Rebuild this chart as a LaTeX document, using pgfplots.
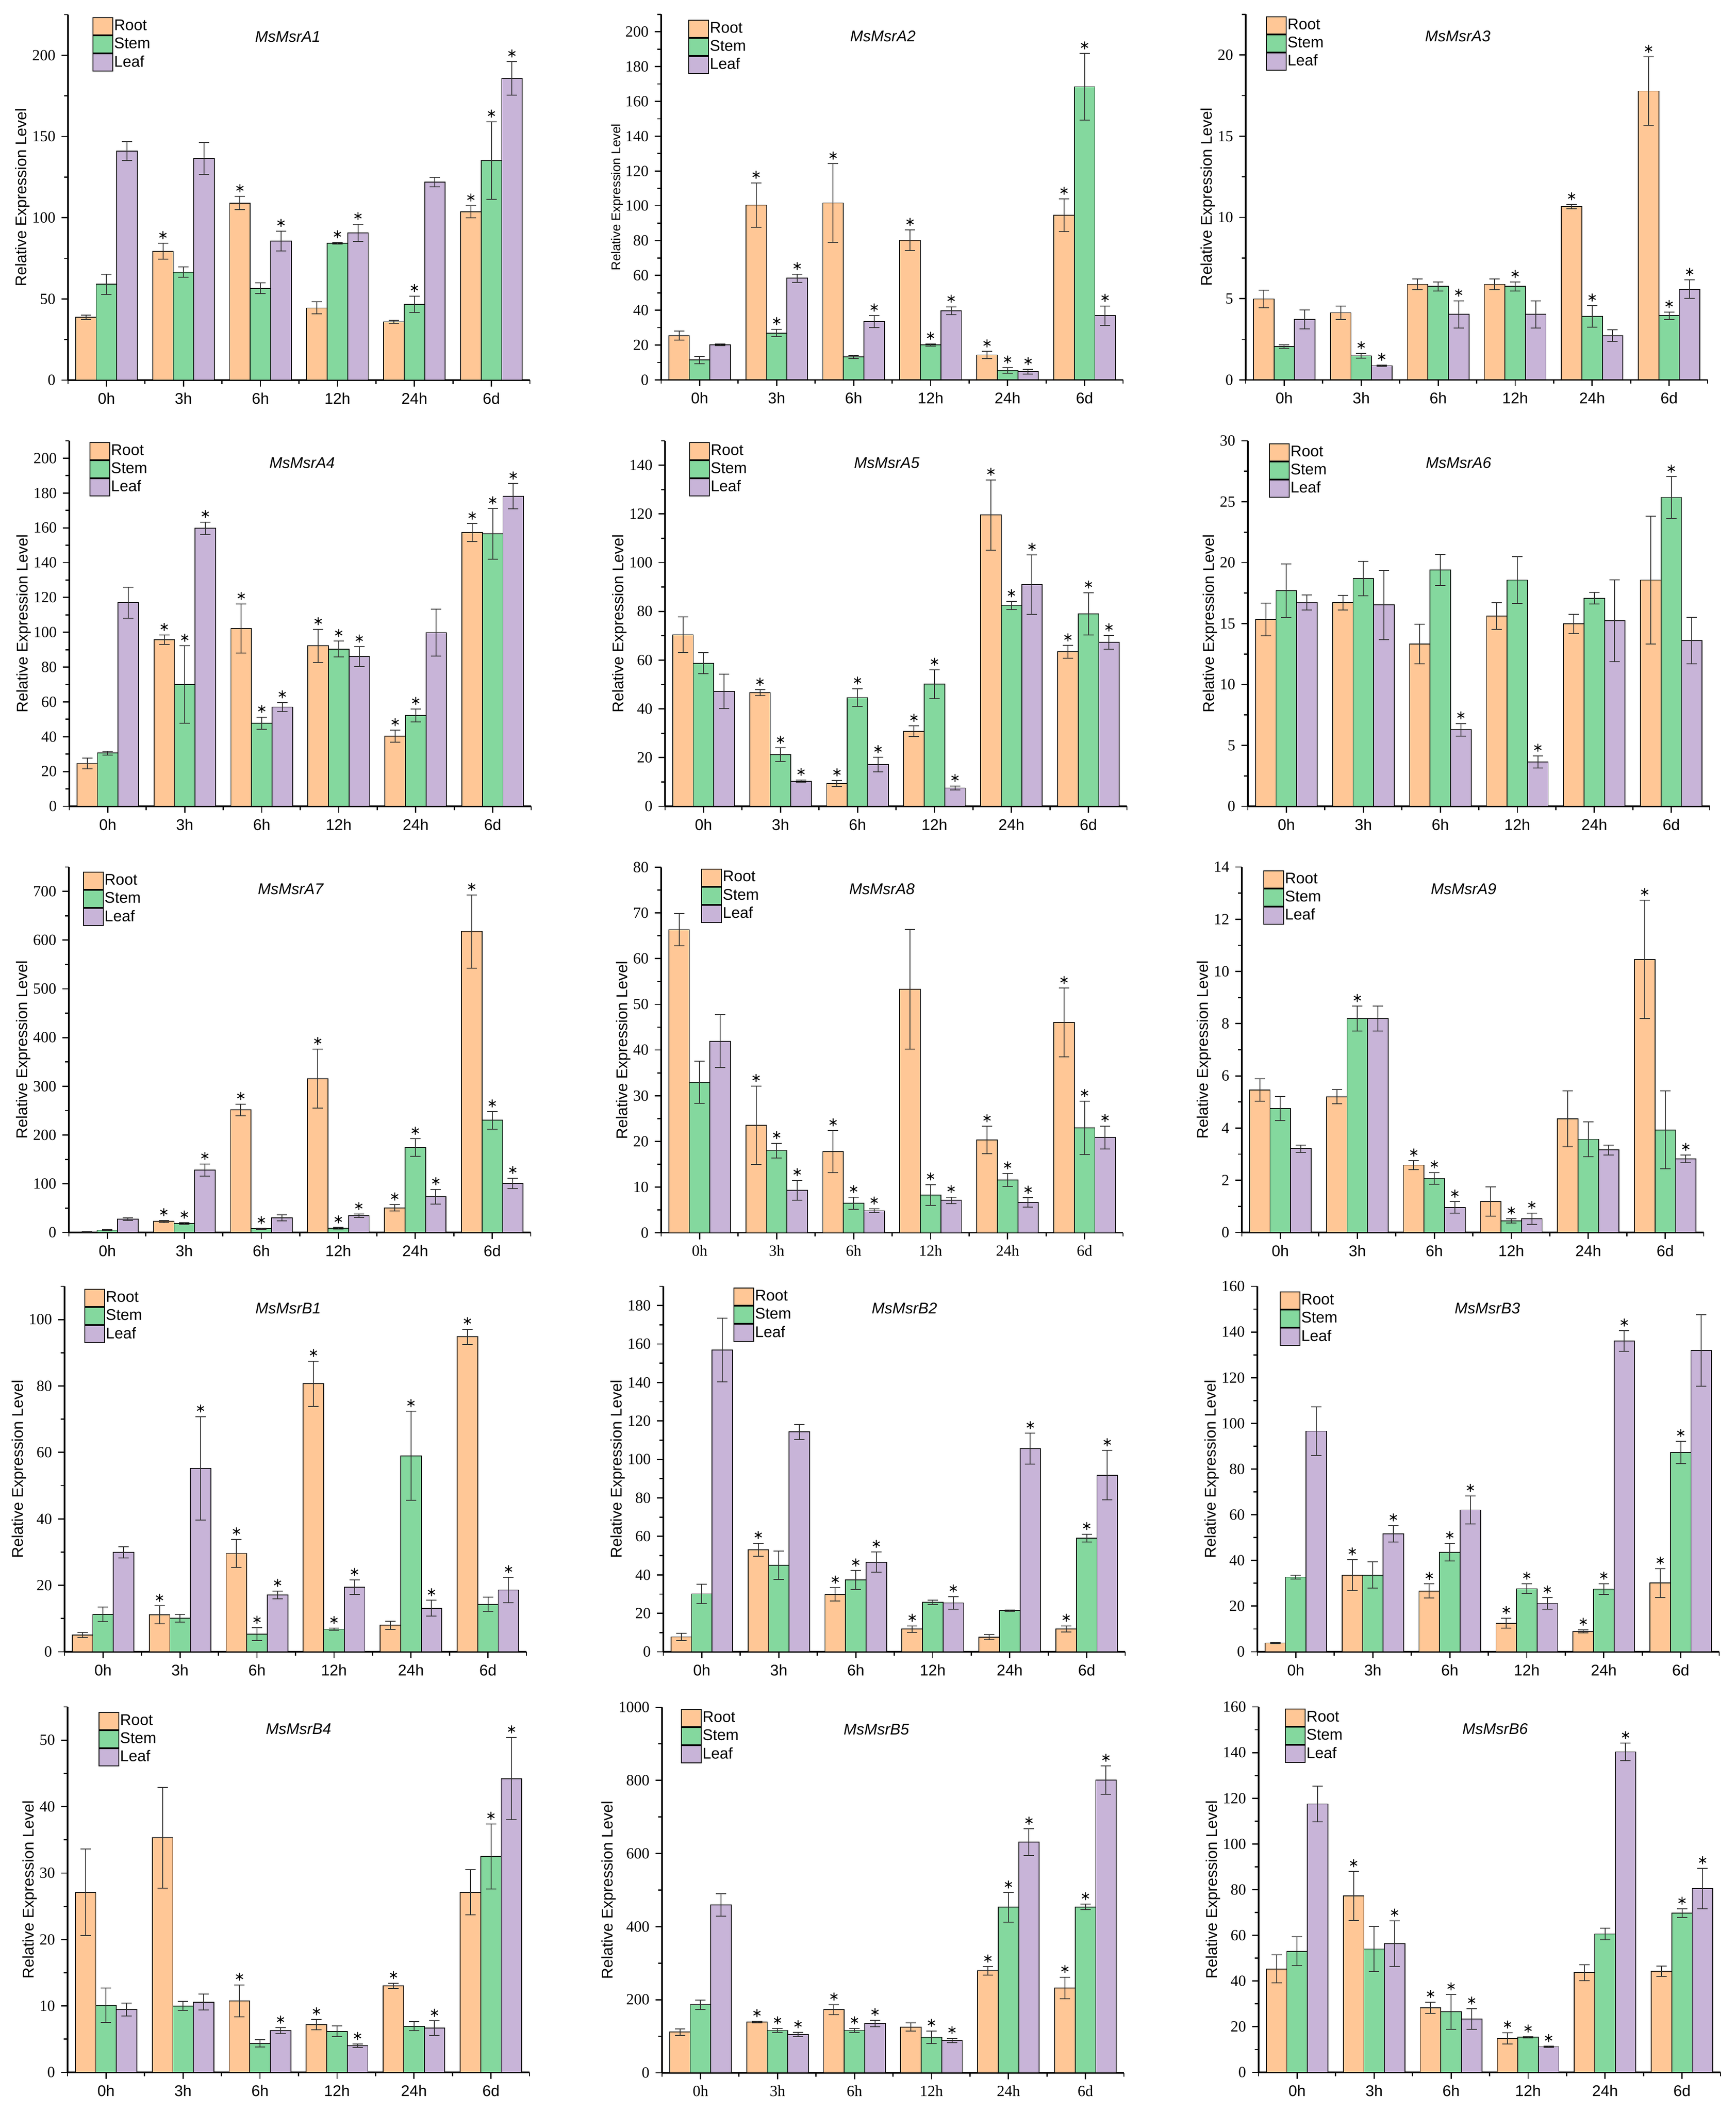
\documentclass[border=0pt]{standalone}
\usepackage{fontspec}
\setmainfont{Liberation Sans}
\newfontfamily\seriff{Liberation Serif}
\usepackage{pgfplots}
\usepackage{pgfplotstable}
\pgfplotsset{compat=1.18}
\definecolor{cR}{RGB}{255,199,150}
\definecolor{cS}{RGB}{132,216,158}
\definecolor{cL}{RGB}{200,180,216}

\newcommand\fs{\fontsize{9}{10}\selectfont}

% columns: g R Re Rs S Se Ss L Le Ls  (value, error, significance star)
\pgfplotstableread{
g R Re Rs S Se Ss L Le Ls
0 38.6 1.3 0 59.0 6.3 0 141.0 5.8 0
1 79.3 4.9 1 66.4 3.2 0 136.5 9.9 0
2 109.0 4.1 1 56.5 3.3 0 85.6 6.2 1
3 44.4 3.7 0 84.2 0.6 1 90.6 5.4 1
4 35.9 0.9 0 46.7 5.0 1 121.8 2.9 0
5 103.7 3.7 1 135.2 23.9 1 185.8 10.3 1
}\tAa
\pgfplotstableread{
g R Re Rs S Se Ss L Le Ls
0 25.4 2.6 0 11.4 2.1 0 20.2 0.5 0
1 100.4 12.8 1 26.9 2.2 1 58.4 2.3 1
2 101.6 22.6 1 13.1 0.9 0 33.5 3.4 1
3 80.2 5.9 1 20.1 0.6 1 39.7 2.3 1
4 14.3 2.0 1 5.4 1.6 1 4.7 1.4 1
5 94.6 9.4 1 168.4 19.1 1 36.9 5.6 1
}\tAb
\pgfplotstableread{
g R Re Rs S Se Ss L Le Ls
0 4.98 0.54 0 2.05 0.10 0 3.72 0.58 0
1 4.13 0.40 0 1.48 0.15 1 0.87 0.05 1
2 5.88 0.32 0 5.75 0.27 0 4.03 0.84 1
3 5.88 0.32 0 5.75 0.27 1 4.03 0.84 0
4 10.67 0.13 1 3.90 0.67 1 2.72 0.36 0
5 17.78 2.10 1 3.95 0.22 1 5.58 0.57 1
}\tAc
\pgfplotstableread{
g R Re Rs S Se Ss L Le Ls
0 24.6 3.2 0 30.6 1.1 0 117.0 8.9 0
1 95.7 2.7 1 70.0 22.2 1 159.7 3.6 1
2 102.1 14.1 1 47.8 3.5 1 57.0 2.7 1
3 92.2 9.5 1 90.3 4.6 1 86.0 5.7 1
4 40.3 3.4 1 52.2 3.7 1 99.8 13.4 0
5 157.3 5.1 1 156.5 14.6 1 178.1 7.3 1
}\tAd
\pgfplotstableread{
g R Re Rs S Se Ss L Le Ls
0 70.4 7.4 0 58.7 4.3 0 47.2 7.1 0
1 46.6 1.2 1 21.2 2.8 1 10.3 0.5 1
2 9.4 1.2 1 44.6 3.7 1 17.1 3.0 1
3 30.8 2.2 1 50.1 5.9 1 7.5 0.8 1
4 119.6 14.4 1 82.4 1.7 1 91.0 12.2 1
5 63.4 2.6 1 79.0 8.7 1 67.3 2.8 1
}\tAe
\pgfplotstableread{
g R Re Rs S Se Ss L Le Ls
0 15.33 1.34 0 17.71 2.20 0 16.73 0.62 0
1 16.71 0.59 0 18.68 1.41 0 16.53 2.84 0
2 13.31 1.63 0 19.41 1.27 0 6.28 0.52 1
3 15.62 1.09 0 18.57 1.93 0 3.65 0.50 1
4 14.97 0.79 0 17.07 0.48 0 15.22 3.35 0
5 18.57 5.24 0 25.35 1.70 1 13.61 1.90 0
}\tAf
\pgfplotstableread{
g R Re Rs S Se Ss L Le Ls
0 1.1 0.3 0 4.9 1.0 0 27.2 2.8 0
1 22.9 2.2 1 18.5 1.6 1 127.9 12.5 1
2 251.5 12.0 1 7.6 1.0 1 30.0 6.5 0
3 315.7 60.5 1 8.7 1.6 1 34.3 3.3 1
4 50.6 6.6 1 174.2 18.0 1 73.5 15.2 1
5 617.9 75.1 1 230.3 17.9 1 100.7 10.9 1
}\tAg
\pgfplotstableread{
g R Re Rs S Se Ss L Le Ls
0 66.35 3.5 0 32.97 4.6 0 41.92 5.8 0
1 23.51 8.6 1 18.0 1.6 1 9.29 2.2 1
2 17.78 4.6 1 6.48 1.3 1 4.82 0.46 1
3 53.27 13.1 0 8.26 2.3 1 7.11 0.7 1
4 20.3 3.0 1 11.58 1.4 1 6.65 1.0 1
5 46.04 7.5 1 22.94 5.85 1 20.87 2.5 1
}\tAh
\pgfplotstableread{
g R Re Rs S Se Ss L Le Ls
0 5.46 0.43 0 4.75 0.46 0 3.21 0.14 0
1 5.20 0.27 0 8.19 0.48 1 8.19 0.48 0
2 2.58 0.17 1 2.07 0.23 1 0.96 0.22 1
3 1.19 0.56 0 0.45 0.08 1 0.53 0.21 1
4 4.35 1.07 0 3.57 0.67 0 3.16 0.19 0
5 10.46 2.27 1 3.93 1.49 0 2.82 0.15 1
}\tAi
\pgfplotstableread{
g R Re Rs S Se Ss L Le Ls
0 5.07 0.75 0 11.3 2.2 0 29.9 1.7 0
1 11.1 2.7 1 10.1 1.2 0 55.2 15.6 1
2 29.6 4.2 1 5.3 1.9 1 17.1 1.2 1
3 80.7 6.8 1 6.8 0.3 1 19.4 2.2 1
4 8.0 1.2 0 59.0 13.4 1 13.1 2.4 1
5 94.8 2.3 1 14.3 2.1 0 18.6 3.8 1
}\tBa
\pgfplotstableread{
g R Re Rs S Se Ss L Le Ls
0 7.7 1.9 0 30.1 5.0 0 156.9 16.5 0
1 53.1 3.4 1 45.0 7.4 0 114.3 3.9 0
2 29.8 3.5 1 37.3 4.9 1 46.6 5.3 1
3 11.8 1.7 1 25.7 1.1 0 25.4 3.3 1
4 7.6 1.3 0 21.4 0.4 0 105.6 8.0 1
5 11.9 1.6 1 59.1 2.1 1 91.8 12.9 1
}\tBb
\pgfplotstableread{
g R Re Rs S Se Ss L Le Ls
0 3.86 0.3 0 32.7 0.9 0 96.6 10.7 0
1 33.6 6.8 1 33.6 5.8 0 51.7 3.6 1
2 26.6 3.1 1 43.6 3.9 1 62.1 6.1 1
3 12.5 2.2 1 27.6 2.2 1 21.2 2.5 1
4 8.9 0.7 1 27.4 2.4 1 136.1 4.5 1
5 30.1 6.3 1 87.3 4.9 1 131.9 15.7 0
}\tBc
\pgfplotstableread{
g R Re Rs S Se Ss L Le Ls
0 27.1 6.5 0 10.1 2.6 0 9.46 1.0 0
1 35.3 7.6 0 10.0 0.7 0 10.57 1.2 0
2 10.78 2.4 1 4.35 0.55 0 6.27 0.46 1
3 7.2 0.77 1 6.18 0.8 0 4.0 0.26 1
4 13.04 0.38 1 6.95 0.68 0 6.65 1.1 1
5 27.1 3.4 0 32.5 4.9 1 44.2 6.2 1
}\tBd
\pgfplotstableread{
g R Re Rs S Se Ss L Le Ls
0 111.5 8.5 0 186.6 12.9 0 459.0 30.4 0
1 138.8 2.3 1 116.1 5.3 1 104.7 6.1 1
2 173.0 13.6 1 116.1 5.3 1 135.0 9.1 1
3 125.2 11.4 0 97.1 17.5 1 88.8 6.0 1
4 279.2 11.4 1 453.0 40.2 1 631.3 36.4 1
5 232.2 29.6 1 453.7 7.6 1 801.2 38.7 1
}\tBe
\pgfplotstableread{
g R Re Rs S Se Ss L Le Ls
0 45.3 6.1 0 53.0 6.3 0 117.5 7.8 0
1 77.3 10.7 1 54.0 9.9 0 56.4 10.0 1
2 28.3 2.5 1 26.5 7.6 1 23.4 4.5 1
3 14.9 2.5 1 15.4 0.25 1 11.2 0.25 1
4 43.7 3.5 0 60.6 2.6 0 140.3 3.8 1
5 44.3 2.2 0 69.7 1.9 1 80.5 8.8 1
}\tBf

\pgfplotsset{
  barbase/.style={ybar, bar width=0.2667, bar shift=0pt, draw=black, line width=0.45pt,
    error bars/y dir=both, error bars/y explicit,
    error bars/error bar style={line width=0.5pt, black!80},
    error bars/error mark options={rotate=90, mark size=3pt, line width=0.5pt, black!80}},
  barR/.style={fill=cR, barbase},
  barS/.style={fill=cS, barbase},
  barL/.style={fill=cL, barbase},
  starmk/.style={only marks, mark=asterisk, mark size=2.3pt,
    mark options={black, line width=0.55pt, yshift=4.7pt}, forget plot},
  panel/.style={
    scale only axis, width=268.25pt, height=212.25pt, anchor=south west,
    xmin=-0.5, xmax=5.5, ymin=0, clip=false,
    axis lines*=left,
    axis line style={line width=0.8pt, black},
    xtick={0,1,2,3,4,5}, xticklabels={0h,3h,6h,12h,24h,6d},
    minor xtick={-0.5,0.5,1.5,2.5,3.5,4.5,5.5},
    minor y tick num=1,
    tick align=outside,
    major tick length=3.75pt, minor tick length=2.2pt,
    tick style={black, line width=0.7pt},
    xticklabel style={font=\fs},
    yticklabel style={font=\seriff\fs},
    scaled y ticks=false,
    /pgf/number format/assume math mode=true,
    /pgf/number format/1000 sep={},
    ylabel={Relative Expression Level},
    ylabel style={font=\fs},
    ylabel shift=-5.5pt,
    legend cell align=left,
    legend style={at={(axis description cs:0,1)}, anchor=north west,
      draw=none, fill=none, inner sep=0pt, outer sep=0pt, font=\fs,
      row sep=0pt, nodes={inner sep=0.5pt},
      /tikz/every even column/.append style={column sep=2.5pt}},
    legend image code/.code={\draw[##1, draw=black, line width=0.5pt] (0pt,-5pt) rectangle (11.5pt,5pt);},
  },
  serifx/.style={xticklabel style={font=\seriff\fs}},
}

\newcommand\groupbars[1]{%
  \addplot[barR] table[x expr=\thisrow{g}-0.2667, y=R, y error=Re] {#1}; \addlegendentry{Root}
  \addplot[barS] table[x=g, y=S, y error=Se] {#1}; \addlegendentry{Stem}
  \addplot[barL] table[x expr=\thisrow{g}+0.2667, y=L, y error=Le] {#1}; \addlegendentry{Leaf}
  \addplot[starmk, restrict expr to domain={\thisrow{Rs}}{0.5:1.5}]
    table[x expr=\thisrow{g}-0.2667, y expr=\thisrow{R}+\thisrow{Re}] {#1};
  \addplot[starmk, restrict expr to domain={\thisrow{Ss}}{0.5:1.5}]
    table[x expr=\thisrow{g}, y expr=\thisrow{S}+\thisrow{Se}] {#1};
  \addplot[starmk, restrict expr to domain={\thisrow{Ls}}{0.5:1.5}]
    table[x expr=\thisrow{g}+0.2667, y expr=\thisrow{L}+\thisrow{Le}] {#1};
}
\newcommand\ptitle[2]{\node[font=\itshape\fs] at (axis description cs:#1,0.94) {#2};}

\begin{document}
\begin{tikzpicture}
\path[use as bounding box] (0,0) rectangle (1008.25pt,1226.5pt);
% ---------- row 1
\begin{axis}[panel, at={(39.5pt,1005.75pt)}, ymax=225, ytick distance=50,
  legend style={xshift=14.25pt, yshift=-1.6pt}]
\groupbars{\tAa}\ptitle{0.476}{MsMsrA1}
\end{axis}
\begin{axis}[panel, at={(384pt,1005.9pt)}, ymax=210, ytick distance=20,
  ylabel style={font=\fontsize{7.4}{8}\selectfont},
  legend style={xshift=15.75pt, yshift=-3.1pt}]
\groupbars{\tAb}\ptitle{0.48}{MsMsrA2}
\end{axis}
\begin{axis}[panel, at={(723.5pt,1005.9pt)}, ymax=22.5, ytick distance=5,
  legend style={xshift=11.75pt, yshift=-1.1pt}]
\groupbars{\tAc}\ptitle{0.459}{MsMsrA3}
\end{axis}
% ---------- row 2
\begin{axis}[panel, at={(40.25pt,758.25pt)}, ymax=210, ytick distance=20,
  legend style={xshift=11.75pt, yshift=-0.75pt}]
\groupbars{\tAd}\ptitle{0.504}{MsMsrA4}
\end{axis}
\begin{axis}[panel, at={(386.25pt,758.25pt)}, ymax=150, ytick distance=20,
  legend style={xshift=14pt, yshift=-0.75pt}]
\groupbars{\tAe}\ptitle{0.48}{MsMsrA5}
\end{axis}
\begin{axis}[panel, at={(724.75pt,758.25pt)}, ymax=30, ytick distance=5,
  legend style={xshift=12.25pt, yshift=-1.5pt}]
\groupbars{\tAf}\ptitle{0.456}{MsMsrA6}
\end{axis}
% ---------- row 3
\begin{axis}[panel, at={(40pt,510.75pt)}, ymax=750, ytick distance=100,
  legend style={xshift=8.25pt, yshift=-2.75pt}]
\groupbars{\tAg}\ptitle{0.48}{MsMsrA7}
\end{axis}
\begin{axis}[panel, serifx, at={(384pt,510.6pt)}, ymax=80, ytick distance=10,
  legend style={xshift=23.25pt, yshift=-0.75pt}]
\groupbars{\tAh}\ptitle{0.478}{MsMsrA8}
\end{axis}
\begin{axis}[panel, at={(721.25pt,510.75pt)}, ymax=14, ytick distance=2,
  legend style={xshift=12.5pt, yshift=-2pt}]
\groupbars{\tAi}\ptitle{0.48}{MsMsrA9}
\end{axis}
% ---------- row 4
\begin{axis}[panel, at={(37.5pt,267.25pt)}, ymax=110, ytick distance=20,
  legend style={xshift=11.5pt, yshift=-1.6pt}]
\groupbars{\tBa}\ptitle{0.484}{MsMsrB1}
\end{axis}
\begin{axis}[panel, at={(385.25pt,267.25pt)}, ymax=190, ytick distance=20,
  legend style={xshift=40.75pt, yshift=-0.75pt}]
\groupbars{\tBb}\ptitle{0.522}{MsMsrB2}
\end{axis}
\begin{axis}[panel, at={(730.25pt,267.25pt)}, ymax=160, ytick distance=20,
  legend style={xshift=13pt, yshift=-3pt}]
\groupbars{\tBc}\ptitle{0.498}{MsMsrB3}
\end{axis}
% ---------- row 5
\begin{axis}[panel, at={(39.25pt,23pt)}, ymax=55, ytick distance=10,
  legend style={xshift=18pt, yshift=-2.9pt}]
\groupbars{\tBd}\ptitle{0.50}{MsMsrB4}
\end{axis}
\begin{axis}[panel, serifx, at={(384.5pt,22.75pt)}, ymax=1000, ytick distance=200,
  legend style={xshift=11pt, yshift=-1.1pt}]
\groupbars{\tBe}\ptitle{0.464}{MsMsrB5}
\end{axis}
\begin{axis}[panel, at={(731pt,23pt)}, ymax=160, ytick distance=20,
  legend style={xshift=15.25pt, yshift=-1pt}]
\groupbars{\tBf}\ptitle{0.512}{MsMsrB6}
\end{axis}
\end{tikzpicture}
\end{document}
